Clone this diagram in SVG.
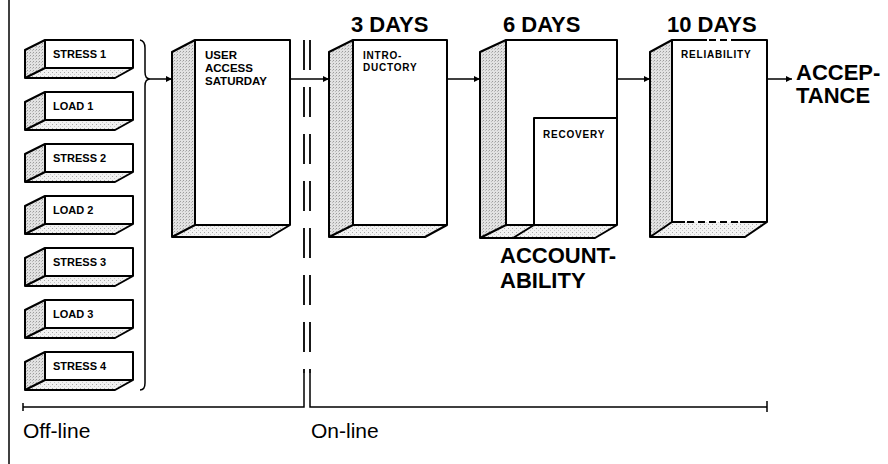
<svg xmlns="http://www.w3.org/2000/svg" width="888" height="464" viewBox="0 0 888 464">
<defs>
<pattern id="stip" width="3" height="3" patternUnits="userSpaceOnUse">
<rect width="3" height="3" fill="#e2e2e2"/>
<rect x="0" y="0" width="1" height="1" fill="#9c9c9c"/>
<rect x="2" y="1" width="1" height="1" fill="#bdbdbd"/>
</pattern>
<pattern id="stipL" width="4" height="4" patternUnits="userSpaceOnUse">
<rect width="4" height="4" fill="#f2f2f2"/>
<rect x="0" y="0" width="1" height="1" fill="#a8a8a8"/>
<rect x="2" y="2" width="1" height="1" fill="#c8c8c8"/>
</pattern>
<marker id="arr" viewBox="0 0 10 10" refX="10" refY="5" markerWidth="8" markerHeight="6" markerUnits="userSpaceOnUse" orient="auto">
<path d="M0,0 L10,5 L0,10 Z" fill="#000"/>
</marker>
<g id="smallbox">
<polygon points="25,10 45,0 45,28 25,38" fill="url(#stip)"/>
<polygon points="25,38 45,28 133,28 115,38" fill="url(#stipL)"/>
<rect x="45" y="0" width="88" height="28" fill="#fff"/>
<path d="M25,10 L45,0 L133,0 L133,28 L115,38 L25,38 Z M45,0 V28 L25,38 M45,28 H133" fill="none" stroke="#000" stroke-width="2" stroke-linejoin="round"/>
</g>
</defs>
<style>
.sl{font-family:"Liberation Sans",Arial,sans-serif;font-weight:bold;font-size:11px;fill:#000}
.ul{font-family:"Liberation Sans",Arial,sans-serif;font-weight:bold;font-size:11.5px;fill:#000}
.bl{font-family:"Liberation Sans",Arial,sans-serif;font-weight:bold;font-size:10px;letter-spacing:0.8px;fill:#000}
.big{font-family:"Liberation Sans",Arial,sans-serif;font-weight:bold;font-size:22px;fill:#000}
.lt{font-family:"Liberation Sans",Arial,sans-serif;font-size:21px;fill:#000}
.edge{fill:none;stroke:#000;stroke-width:2;stroke-linejoin:round}
.con{fill:none;stroke:#000;stroke-width:1.5}
.side{fill:url(#stip)}
.floor{fill:url(#stipL)}
</style>
<rect width="888" height="464" fill="#fff"/>
<line x1="9" y1="0" x2="9" y2="464" stroke="#000" stroke-width="1.5"/>

<g id="stress1"><use href="#smallbox" transform="translate(0,40)"/><text class="sl" x="53" y="58">STRESS 1</text></g>
<g id="load1"><use href="#smallbox" transform="translate(0,92)"/><text class="sl" x="53" y="110">LOAD 1</text></g>
<g id="stress2"><use href="#smallbox" transform="translate(0,144)"/><text class="sl" x="53" y="162">STRESS 2</text></g>
<g id="load2"><use href="#smallbox" transform="translate(0,196)"/><text class="sl" x="53" y="214">LOAD 2</text></g>
<g id="stress3"><use href="#smallbox" transform="translate(0,248)"/><text class="sl" x="53" y="266">STRESS 3</text></g>
<g id="load3"><use href="#smallbox" transform="translate(0,300)"/><text class="sl" x="53" y="318">LOAD 3</text></g>
<g id="stress4"><use href="#smallbox" transform="translate(0,352)"/><text class="sl" x="53" y="370">STRESS 4</text></g>

<g id="user-access">
<polygon class="side" points="172,52 195,40 195,225 172,237"/>
<polygon class="floor" points="172,237 195,225 290,225 270,237"/>
<rect x="195" y="40" width="95" height="185" fill="#fff"/>
<path class="edge" d="M172,52 L195,40 L290,40 L290,225 L270,237 L172,237 Z M195,40 V225 L172,237 M195,225 H290"/>
<text class="ul" x="205" y="59">USER</text>
<text class="ul" x="205" y="72">ACCESS</text>
<text class="ul" x="205" y="85">SATURDAY</text>
</g>

<g id="introductory">
<polygon class="side" points="329,52 353,40 353,225 329,237"/>
<polygon class="floor" points="329,237 353,225 447,225 425,237"/>
<rect x="353" y="40" width="94" height="185" fill="#fff"/>
<path class="edge" d="M329,52 L353,40 L447,40 L447,225 L425,237 L329,237 Z M353,40 V225 L329,237 M353,225 H447"/>
<text class="bl" x="363" y="59">INTRO-</text>
<text class="bl" x="363" y="71">DUCTORY</text>
<text class="big" x="351" y="32">3 DAYS</text>
</g>

<g id="accountability">
<polygon class="side" points="480,52 506,40 506,225 480,238"/>
<polygon class="floor" points="480,238 506,225 617,225 595,238"/>
<rect x="506" y="40" width="111" height="185" fill="#fff"/>
<path class="edge" d="M480,52 L506,40 L617,40 L617,225 L595,238 L480,238 Z M506,40 V225 L480,238 M506,225 H617 M534,225 V118 H617 M534,225 L513,238"/>
<text class="bl" x="543" y="138">RECOVERY</text>
<text class="big" x="503" y="32">6 DAYS</text>
<text class="big" x="500" y="263">ACCOUNT-</text>
<text class="big" x="500" y="288">ABILITY</text>
</g>

<g id="reliability">
<polygon class="side" points="650,52 672,40 672,222 650,237"/>
<polygon class="floor" points="650,237 672,222 767,222 745,237"/>
<rect x="672" y="40" width="95" height="182" fill="#fff"/>
<path class="edge" d="M707,40 L672,40 L650,52 L650,237 L745,237 L767,222 L767,40 L737,40 M672,40 V222 L650,237 M672,222 H685 M740,222 H767"/>
<path d="M709,40 H737 M687,222 H740" fill="none" stroke="#000" stroke-width="2" stroke-dasharray="7,4"/>
<text class="bl" x="681" y="58">RELIABILITY</text>
<text class="big" x="667" y="32">10 DAYS</text>
</g>

<g id="acceptance">
<text class="big" x="796" y="80">ACCEP-</text>
<text class="big" x="796" y="103">TANCE</text>
</g>

<g id="connectors">
<path class="con" d="M140,40 Q145,41 145,48 V72 Q145,79 150,79 Q145,79 145,86 V383 Q145,390 140,390" stroke-width="2"/>
<line class="con" x1="150" y1="79" x2="172" y2="79" marker-end="url(#arr)"/>
<line class="con" x1="290" y1="79" x2="329" y2="79" marker-end="url(#arr)"/>
<line class="con" x1="447" y1="79" x2="480" y2="79" marker-end="url(#arr)"/>
<line class="con" x1="617" y1="79" x2="650" y2="79" marker-end="url(#arr)"/>
<line class="con" x1="767" y1="79" x2="792" y2="79" marker-end="url(#arr)"/>
<path d="M304,40 V373 M310,40 V373" fill="none" stroke="#000" stroke-width="1.8" stroke-dasharray="30,17"/>
<path d="M304,373 V407 H23 M23,403 V411" fill="none" stroke="#000" stroke-width="1.5"/>
<path d="M310,373 V407 H767 M767,401 V412" fill="none" stroke="#000" stroke-width="1.5"/>
</g>

<text class="lt" x="23" y="438">Off-line</text>
<text class="lt" x="311" y="438">On-line</text>
</svg>
